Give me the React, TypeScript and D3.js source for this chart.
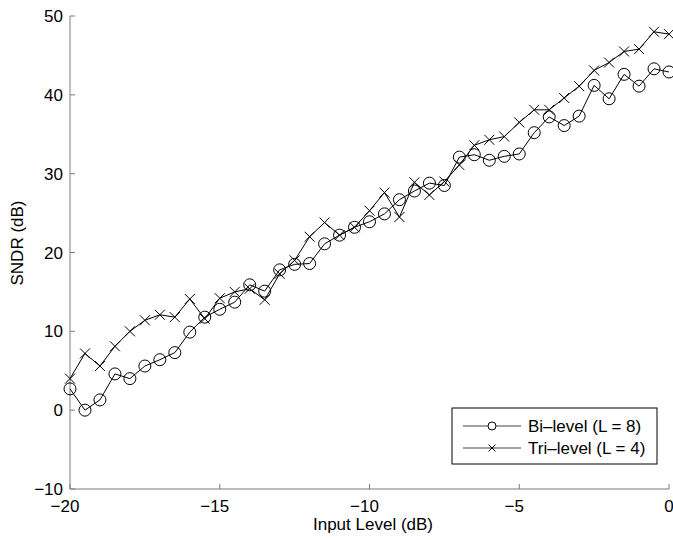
import React from "react";
import * as d3 from "d3";

const inputLevels: number[] = [
  -20, -19.5, -19, -18.5, -18, -17.5, -17, -16.5, -16, -15.5, -15, -14.5, -14, -13.5,
  -13, -12.5, -12, -11.5, -11, -10.5, -10, -9.5, -9, -8.5, -8, -7.5, -7, -6.5, -6,
  -5.5, -5, -4.5, -4, -3.5, -3, -2.5, -2, -1.5, -1, -0.5, 0,
];

const biLevel: number[] = [
  2.7, 0.0, 1.3, 4.6, 4.0, 5.6, 6.4, 7.3, 9.9, 11.8, 12.8, 13.7, 15.9, 15.1,
  17.8, 18.5, 18.6, 21.1, 22.2, 23.2, 23.9, 24.9, 26.7, 27.8, 28.8, 28.5, 32.1, 32.4, 31.7,
  32.2, 32.5, 35.2, 37.2, 36.1, 37.3, 41.2, 39.5, 42.6, 41.1, 43.3, 42.9,
];

const triLevel: number[] = [
  4.0, 7.2, 5.6, 8.1, 10.0, 11.4, 12.1, 11.8, 14.1, 11.6, 14.2, 15.0, 15.4, 14.0,
  17.3, 19.0, 22.0, 23.8, 22.2, 23.2, 25.3, 27.6, 24.5, 28.9, 27.3, 29.0, 31.1, 33.6, 34.3,
  34.7, 36.5, 38.1, 38.1, 39.6, 41.1, 43.1, 44.1, 45.5, 45.8, 48.0, 47.7,
];

const xTicks: number[] = [-20, -15, -10, -5, 0];
const yTicks: number[] = [-10, 0, 10, 20, 30, 40, 50];
const seriesNames: string[] = ["Bi\u2013level (L = 8)", "Tri\u2013level (L = 4)"];

const W = 673;
const H = 540;
const left = 70;
const right = 669;
const top = 16;
const bottom = 489;
const FS = 17;
const FONT = "'Liberation Sans', Arial, Helvetica, sans-serif";

const fmt = (v: number) => (v < 0 ? "\u2212" + Math.abs(v) : String(v));

export default function App() {
  const x = d3.scaleLinear().domain([-20, 0]).range([left, right]);
  const y = d3.scaleLinear().domain([-10, 50]).range([bottom, top]);

  const pts1 = inputLevels.map((v, i) => [v, biLevel[i]] as [number, number]);
  const pts2 = inputLevels.map((v, i) => [v, triLevel[i]] as [number, number]);
  const line = d3
    .line<[number, number]>()
    .x((d) => x(d[0]))
    .y((d) => y(d[1]));

  const axisColor = "#7a7a7a";
  const xm = 5;

  const cross = (cx: number, cy: number, s: number, key: string) => (
    <path
      key={key}
      d={`M${cx - s},${cy - s}L${cx + s},${cy + s}M${cx - s},${cy + s}L${cx + s},${cy - s}`}
      stroke="#000"
      strokeWidth={1}
      fill="none"
    />
  );

  const legX = 452;
  const legY = 408;
  const legW = 205;
  const legH = 56;

  return (
    <svg
      width={W}
      height={H}
      style={{ position: "absolute", left: 0, top: 0, background: "#fff" }}
      fontFamily={FONT}
    >
      <rect x={0} y={0} width={W} height={H} fill="#fff" />
      {/* axes */}
      <line x1={left} y1={top} x2={left} y2={bottom} stroke={axisColor} strokeWidth={1} />
      <line x1={left} y1={bottom} x2={right} y2={bottom} stroke={axisColor} strokeWidth={1} />
      {xTicks.map((t) => {
        const digits = String(Math.abs(t)).length;
        const half = (digits * 0.556 * FS) / 2;
        return (
          <g key={"xt" + t}>
            <line x1={x(t)} x2={x(t)} y1={bottom} y2={bottom - 5} stroke={axisColor} />
            <text x={x(t) + half} y={bottom + 23} textAnchor="end" fontSize={FS} fill="#000">
              {fmt(t)}
            </text>
          </g>
        );
      })}
      {yTicks.map((t) => (
        <g key={"yt" + t}>
          <line x1={left} x2={left + 5} y1={y(t)} y2={y(t)} stroke={axisColor} />
          <text x={left - 7} y={y(t) + 6} textAnchor="end" fontSize={FS} fill="#000">
            {fmt(t)}
          </text>
        </g>
      ))}
      <text x={373} y={530} textAnchor="middle" fontSize={FS} fill="#000">
        Input Level (dB)
      </text>
      <text
        transform={`translate(23,243) rotate(-90)`}
        textAnchor="middle"
        fontSize={FS}
        fill="#000"
      >
        SNDR (dB)
      </text>

      {/* series */}
      <path d={line(pts1) || ""} fill="none" stroke="#000" strokeWidth={1} />
      <path d={line(pts2) || ""} fill="none" stroke="#000" strokeWidth={1} />
      {pts1.map((d, i) => (
        <circle key={"c" + i} cx={x(d[0])} cy={y(d[1])} r={6} fill="none" stroke="#000" strokeWidth={1} />
      ))}
      {pts2.map((d, i) => cross(x(d[0]), y(d[1]), xm, "x" + i))}

      {/* legend */}
      <rect x={legX} y={legY} width={legW} height={legH} fill="#fff" stroke="#000" strokeWidth={1} />
      <line x1={legX + 11} x2={legX + 69} y1={legY + 18} y2={legY + 18} stroke="#444" />
      <circle cx={legX + 40} cy={legY + 18} r={4} fill="#fff" stroke="#000" />
      <text x={legX + 76} y={legY + 24} fontSize={FS} fill="#000">
        {seriesNames[0]}
      </text>
      <line x1={legX + 11} x2={legX + 69} y1={legY + 40} y2={legY + 40} stroke="#444" />
      {cross(legX + 40, legY + 40, 3.5, "legx")}
      <text x={legX + 76} y={legY + 46} fontSize={FS} fill="#000">
        {seriesNames[1]}
      </text>
    </svg>
  );
}
